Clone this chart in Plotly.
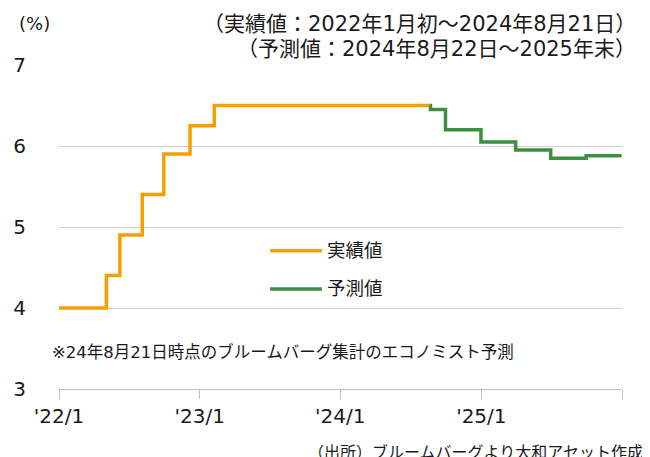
import plotly.graph_objects as go

# 実績値（政策金利）
actual_dates = ['2022-01-01', '2022-05-04', '2022-06-08', '2022-08-05',
                '2022-09-30', '2022-12-07', '2023-02-08', '2024-08-21']
actual_vals = [4.0, 4.4, 4.9, 5.4, 5.9, 6.25, 6.5, 6.5]

# 予測値（エコノミスト予測）
fcst_dates = ['2024-08-21', '2024-08-22', '2024-09-30', '2024-12-31',
              '2025-03-31', '2025-06-30', '2025-09-30', '2025-12-31']
fcst_vals = [6.5, 6.45, 6.2, 6.05, 5.95, 5.85, 5.88, 5.88]

tick_dates = ['2022-01-01', '2023-01-01', '2024-01-01', '2025-01-01', '2026-01-01']
tick_text = ["'22/1", "'23/1", "'24/1", "'25/1", ""]

FONT = 'DejaVu Sans, Noto Sans CJK JP'
ORANGE = '#F5A000'
GREEN = '#3F8F40'

fig = go.Figure()
fig.add_trace(go.Scatter(
    x=actual_dates, y=actual_vals, mode='lines', name='実績値',
    line=dict(color=ORANGE, width=3.5, shape='hv')
))
fig.add_trace(go.Scatter(
    x=fcst_dates, y=fcst_vals, mode='lines', name='予測値',
    line=dict(color=GREEN, width=3.5, shape='hv')
))

# ページ本体の余白(8px)を考慮したサイズ
fig.update_layout(
    width=642, height=449,
    margin=dict(l=51, r=28, t=57, b=68),
    plot_bgcolor='white', paper_bgcolor='white',
    font=dict(family=FONT, size=18, color='#1a1a1a'),
    showlegend=False,
    xaxis=dict(
        type='date', range=['2022-01-01', '2026-01-01'],
        tickvals=tick_dates, ticktext=tick_text,
        showgrid=False, showline=True, linecolor='#bfbfbf', linewidth=1,
        ticks='outside', ticklen=9, tickcolor='#bfbfbf',
        tickfont=dict(size=20), zeroline=False, automargin=False
    ),
    yaxis=dict(
        range=[3, 7], tickvals=[3, 4, 5, 6, 7], showgrid=True,
        gridcolor='#d0d0d0', gridwidth=1, zeroline=False, showline=False,
        tickfont=dict(size=20), ticklabelstandoff=32, automargin=False
    ),
)

# 凡例（手描き）
for name, color, ly in [('実績値', ORANGE, 0.427), ('予測値', GREEN, 0.309)]:
    fig.add_shape(type='line', xref='paper', yref='paper',
                  x0=0.375, x1=0.467, y0=ly, y1=ly,
                  line=dict(color=color, width=3.5))
    fig.add_annotation(text=name, xref='paper', yref='paper', x=0.472, y=ly,
                       xanchor='left', yanchor='middle', showarrow=False,
                       font=dict(size=18.5))

fig.add_annotation(text='(%)', xref='paper', yref='paper', x=-0.043, y=1.127,
                   xanchor='center', yanchor='middle', showarrow=False,
                   font=dict(size=18))
fig.add_annotation(text='（実績値：2022年1月初～2024年8月21日）', xref='paper', yref='paper',
                   x=1.028, y=1.127, xanchor='right', yanchor='middle', showarrow=False,
                   font=dict(size=21))
fig.add_annotation(text='（予測値：2024年8月22日～2025年末）', xref='paper', yref='paper',
                   x=1.028, y=1.05, xanchor='right', yanchor='middle', showarrow=False,
                   font=dict(size=21))
fig.add_annotation(text='※24年8月21日時点のブルームバーグ集計のエコノミスト予測',
                   xref='paper', yref='paper', x=-0.016, y=0.114,
                   xanchor='left', yanchor='middle', showarrow=False,
                   font=dict(size=16.5))
fig.add_annotation(text='（出所）ブルームバーグより大和アセット作成',
                   xref='paper', yref='paper', x=1.04, y=-0.196,
                   xanchor='right', yanchor='middle', showarrow=False,
                   font=dict(size=16))

fig.write_html("out.html")
